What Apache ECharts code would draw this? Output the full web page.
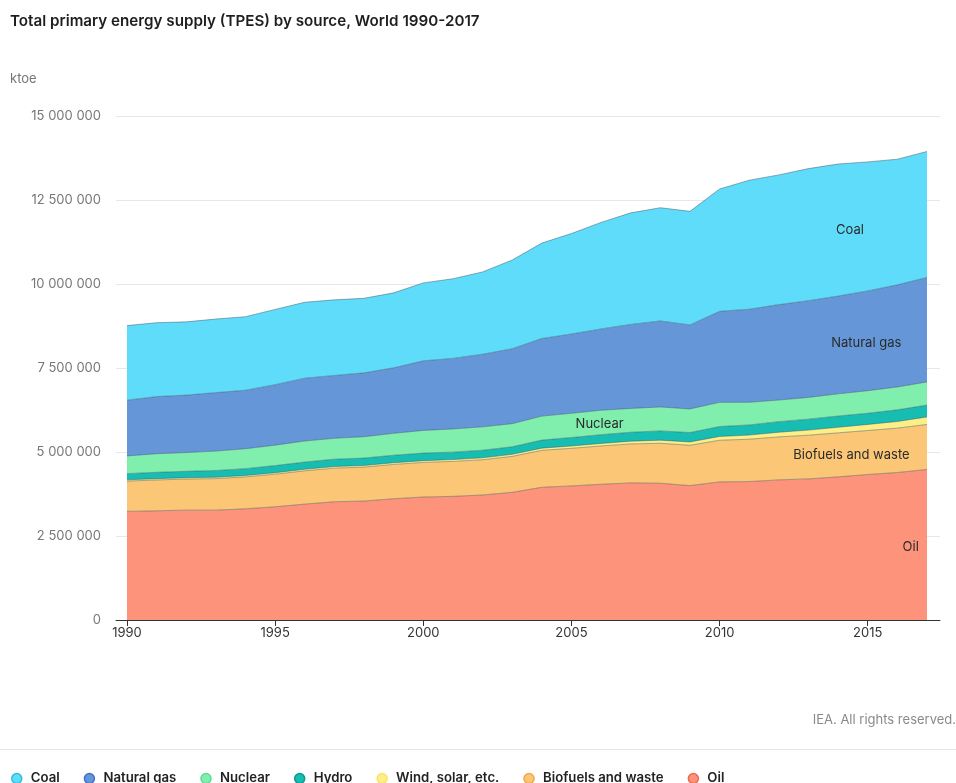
<!DOCTYPE html>
<html>
<head>
<meta charset="utf-8">
<script src="https://cdn.jsdelivr.net/npm/echarts@6/dist/echarts.min.js"></script>
<style>
  html, body { margin: 0; padding: 0; background: #fff; }
  #chart { width: 956px; height: 783px; }
</style>
</head>
<body>
<div id="chart"></div>
<script>
// World total primary energy supply by source, ktoe
const years = [1990, 1991, 1992, 1993, 1994, 1995, 1996, 1997, 1998, 1999,
               2000, 2001, 2002, 2003, 2004, 2005, 2006, 2007, 2008, 2009,
               2010, 2011, 2012, 2013, 2014, 2015, 2016, 2017];

const oil = [3232000, 3250000, 3270000, 3270000, 3310000, 3370000, 3450000, 3520000, 3540000, 3610000,
             3660000, 3680000, 3720000, 3800000, 3950000, 3990000, 4040000, 4080000, 4070000, 4000000,
             4110000, 4120000, 4170000, 4200000, 4260000, 4330000, 4390000, 4480000];
const biofuels = [903000, 917000, 925000, 937000, 950000, 970000, 990000, 1000000, 1010000, 1020000,
                  1030000, 1040000, 1050000, 1070000, 1100000, 1120000, 1140000, 1160000, 1190000, 1200000,
                  1240000, 1260000, 1280000, 1300000, 1310000, 1310000, 1320000, 1340000];
const windSolar = [37000, 39000, 40000, 41000, 42000, 43000, 45000, 47000, 48000, 50000,
                   52000, 54000, 57000, 60000, 64000, 69000, 74000, 81000, 91000, 99000,
                   112000, 124000, 139000, 153000, 166000, 180000, 199000, 223000];
const hydro = [184000, 190000, 190000, 201000, 203000, 213000, 216000, 220000, 222000, 224000,
               225000, 222000, 226000, 226000, 240000, 252000, 261000, 267000, 277000, 280000,
               296000, 301000, 315000, 325000, 335000, 334000, 346000, 353000];
const nuclear = [526000, 553000, 558000, 579000, 592000, 608000, 626000, 621000, 635000, 652000,
                 676000, 690000, 696000, 687000, 714000, 721000, 728000, 709000, 712000, 703000,
                 719000, 674000, 643000, 646000, 660000, 670000, 680000, 688000];
const naturalGas = [1660000, 1700000, 1710000, 1740000, 1740000, 1800000, 1870000, 1870000, 1900000, 1950000,
                    2070000, 2100000, 2160000, 2230000, 2310000, 2360000, 2420000, 2500000, 2560000, 2500000,
                    2710000, 2770000, 2840000, 2880000, 2910000, 2970000, 3040000, 3110000];
const coal = [2220000, 2200000, 2180000, 2190000, 2190000, 2240000, 2260000, 2250000, 2220000, 2230000,
              2320000, 2370000, 2450000, 2640000, 2840000, 2990000, 3170000, 3320000, 3370000, 3380000,
              3640000, 3840000, 3860000, 3930000, 3930000, 3840000, 3740000, 3750000];

const yTicks = [0, 2500000, 5000000, 7500000, 10000000, 12500000, 15000000];
const xTickStep = 5; // a labelled tick every five years

// In-chart series labels: [text, year, ktoe]
const areaLabels = [
  ['Coal', 2014.4, 11600000],
  ['Natural gas', 2014.95, 8240000],
  ['Nuclear', 2005.95, 5830000],
  ['Biofuels and waste', 2014.45, 4910000],
  ['Oil', 2016.45, 2170000]
];

const FONT = 'Inter, Roboto, "Noto Sans", sans-serif';

// bottom-to-top stacking order
const layers = [
  { name: 'Oil', data: oil, fill: '#fc937a', dot: '#ee6a4f' },
  { name: 'Biofuels and waste', data: biofuels, fill: '#fbc676', dot: '#f5a645' },
  { name: 'Wind, solar, etc.', data: windSolar, fill: '#fbef86', dot: '#fae36a' },
  { name: 'Hydro', data: hydro, fill: '#17bdb1', dot: '#0b9a8f' },
  { name: 'Nuclear', data: nuclear, fill: '#80efae', dot: '#5fdc93' },
  { name: 'Natural gas', data: naturalGas, fill: '#6597d8', dot: '#3f72c8' },
  { name: 'Coal', data: coal, fill: '#5fdcf9', dot: '#2fbde3' }
];

const legendOrder = ['Coal', 'Natural gas', 'Nuclear', 'Hydro', 'Wind, solar, etc.', 'Biofuels and waste', 'Oil'];

function spaced(v) {
  return String(v).replace(/\B(?=(\d{3})+(?!\d))/g, ' ');
}

const yMin = yTicks[0], yMax = yTicks[yTicks.length - 1], yStep = yTicks[1] - yTicks[0];

const series = layers.map(function (l) {
  return {
    name: l.name,
    type: 'line',
    stack: 'total',
    xAxisIndex: 0,
    yAxisIndex: 0,
    showSymbol: false,
    smooth: false,
    data: l.data.slice(),
    lineStyle: { width: 0.8, color: 'rgba(50,70,90,0.55)' },
    areaStyle: { color: l.fill, opacity: 1 },
    itemStyle: { color: l.dot },
    emphasis: { disabled: true },
    silent: true
  };
});

const chart = echarts.init(document.getElementById('chart'), null, { renderer: 'canvas' });

const tickEvery = function (idx) { return (years[idx] - years[0]) % xTickStep === 0; };

chart.setOption({
  animation: false,
  backgroundColor: '#ffffff',
  textStyle: { fontFamily: FONT },
  title: [
    {
      text: 'Total primary energy supply (TPES) by source, World 1990-2017',
      left: 5, top: 9,
      textStyle: { fontSize: 15.2, fontWeight: 600, color: '#1e1e1e', fontFamily: FONT }
    },
    {
      text: 'ktoe',
      left: 5, top: 68,
      textStyle: { fontSize: 13, fontWeight: 'normal', color: '#777', fontFamily: FONT }
    },
    {
      text: 'IEA. All rights reserved.',
      right: 0, top: 714, padding: 0,
      textStyle: { fontSize: 13, fontWeight: 'normal', color: '#8a8a8a', fontFamily: FONT }
    }
  ],
  legend: {
    left: 6, top: 767,
    icon: 'circle',
    itemWidth: 10, itemHeight: 10,
    itemGap: 24,
    selectedMode: false,
    data: legendOrder.map(function (n) {
      const l = layers.filter(function (x) { return x.name === n; })[0];
      return { name: n, itemStyle: { color: l.fill, borderColor: l.dot, borderWidth: 1.5 } };
    }),
    textStyle: { fontSize: 13.2, fontWeight: 600, color: '#222', fontFamily: FONT, padding: [0, 0, 0, 4] }
  },
  grid: [
    // data area: 1990 to 2017
    { left: 127, right: 29, top: 116, bottom: 163 },
    // wider frame for the gridlines, axis line and value labels
    { left: 116, right: 16, top: 116, bottom: 163 }
  ],
  xAxis: [
    {
      type: 'category', gridIndex: 0, data: years.map(String), boundaryGap: false,
      axisLine: { show: false },
      axisTick: { show: true, length: 6, interval: function (i) { return tickEvery(i); }, lineStyle: { color: '#333', width: 1 } },
      axisLabel: { color: '#333', fontSize: 13, margin: 7, fontFamily: FONT, interval: function (i) { return tickEvery(i); } },
      splitLine: { show: false }
    },
    {
      type: 'value', gridIndex: 1, min: 0, max: 1,
      axisLine: { show: true, lineStyle: { color: '#333', width: 1 } },
      axisTick: { show: false }, axisLabel: { show: false }, splitLine: { show: false }
    }
  ],
  yAxis: [
    {
      type: 'value', gridIndex: 0,
      min: yMin, max: yMax, interval: yStep,
      axisLine: { show: false }, axisTick: { show: false },
      axisLabel: { show: false }, splitLine: { show: false }
    },
    {
      type: 'value', gridIndex: 1,
      min: yMin, max: yMax, interval: yStep,
      axisLine: { show: false }, axisTick: { show: false },
      axisLabel: { color: '#777', fontSize: 13, margin: 15, fontFamily: FONT, formatter: spaced },
      splitLine: { show: true, lineStyle: { color: '#e8e8e8', width: 1 } }
    }
  ],
  series: series
});

// Series names written inside their areas, placed through the axis scales
const x0 = chart.convertToPixel({ xAxisIndex: 0 }, 0);
const x1 = chart.convertToPixel({ xAxisIndex: 0 }, years.length - 1);
const perYear = (x1 - x0) / (years[years.length - 1] - years[0]);
chart.setOption({
  graphic: [
    { type: 'line', shape: { x1: 0, y1: 749.5, x2: 956, y2: 749.5 }, style: { stroke: '#e4e4e4', lineWidth: 1 }, silent: true }
  ].concat(areaLabels.map(function (a) {
    return {
      type: 'text',
      silent: true,
      x: x0 + (a[1] - years[0]) * perYear,
      y: chart.convertToPixel({ yAxisIndex: 0 }, a[2]),
      style: {
        text: a[0], fill: '#2a2a2a', fontSize: 13, fontFamily: FONT,
        align: 'center', verticalAlign: 'middle'
      },
      z: 100
    };
  }))
});
</script>
</body>
</html>
